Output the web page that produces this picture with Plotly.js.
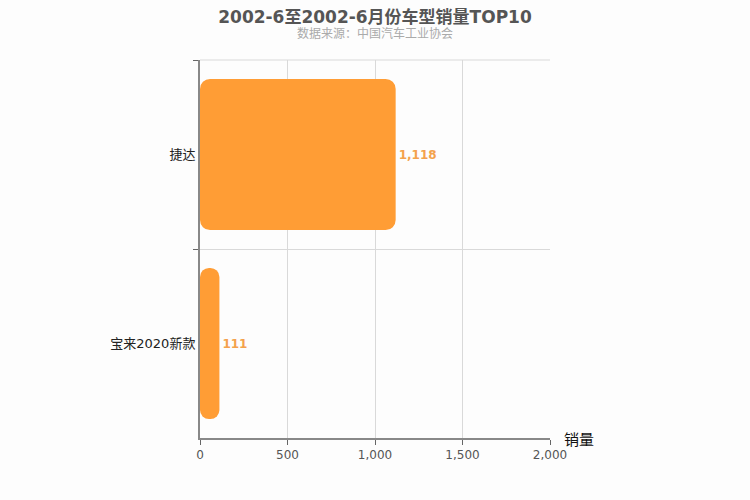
<!DOCTYPE html>
<html>
<head>
<meta charset="utf-8">
<script src="https://cdn.plot.ly/plotly-3.0.1.min.js"></script>
<style>html,body{margin:0;padding:0;background:#fdfdfd;}#chart{width:750px;height:500px;}</style>
</head>
<body>
<div id="chart"></div>
<script>
// Data
const categories = ['捷达', '宝来2020新款'];
const sales = [1118, 111];
const titleText = '2002-6至2002-6月份车型销量TOP10';
const subtitleText = '数据来源：中国汽车工业协会';
const xAxisTitle = '销量';

const barColor = '#ff9d35';
const labels = sales.map(v => v.toLocaleString('en-US'));

const trace = {
  type: 'bar', orientation: 'h', y: categories, x: sales, base: sales.map(() => 0), width: 0.8,
  marker: {color: barColor, cornerradius: 10},
  text: labels, textposition: 'outside', cliponaxis: false,
  textfont: {color: '#f4a24c', size: 12, family: 'DejaVu Sans', weight: 'bold'},
  hoverinfo: 'skip', showlegend: false
};

const layout = {
  width: 750, height: 500,
  paper_bgcolor: '#fdfdfd', plot_bgcolor: '#fdfdfd',
  margin: {l: 200, r: 200, t: 60, b: 62},
  font: {family: 'DejaVu Sans, Noto Sans CJK SC', color: '#333'},
  title: {text: '<b>' + titleText + '</b>', x: 0.5, xanchor: 'center', y: 0.966, yanchor: 'middle',
          font: {size: 17, color: '#555', family: 'DejaVu Sans, Noto Sans CJK SC'}},
  xaxis: {
    range: [0, 2000], dtick: 500, tickformat: ',', ticks: 'outside', ticklen: 5,
    tickcolor: '#666', showline: true, linecolor: '#888', linewidth: 2,
    showgrid: true, gridcolor: '#d9d9d9', zeroline: false,
    tickfont: {size: 12, color: '#555', family: 'DejaVu Sans'}
  },
  yaxis: {
    type: 'category', autorange: 'reversed', tickson: 'boundaries',
    ticks: 'outside', ticklen: 5, tickcolor: '#666',
    showline: true, linecolor: '#888', linewidth: 2,
    showgrid: true, gridcolor: '#d9d9d9',
    tickfont: {size: 13, color: '#222', family: 'DejaVu Sans, Noto Sans CJK SC'}
  },
  shapes: [
    {type: 'line', xref: 'paper', yref: 'paper', x0: 0, x1: 1, y0: 1, y1: 1, line: {color: '#d9d9d9', width: 1}, layer: 'below'}
  ],
  annotations: [
    {text: subtitleText, xref: 'paper', yref: 'paper', x: 0.5, y: 1, yshift: 27, xanchor: 'center', yanchor: 'middle',
     showarrow: false, font: {size: 12, color: '#aaa'}},
    {text: xAxisTitle, xref: 'paper', yref: 'paper', x: 1, y: 0, xshift: 12, yshift: -2, xanchor: 'left', yanchor: 'middle',
     showarrow: false, font: {size: 15, color: '#111'}}
  ]
};

Plotly.newPlot('chart', [trace], layout, {displayModeBar: false, staticPlot: true});
</script>
</body>
</html>
